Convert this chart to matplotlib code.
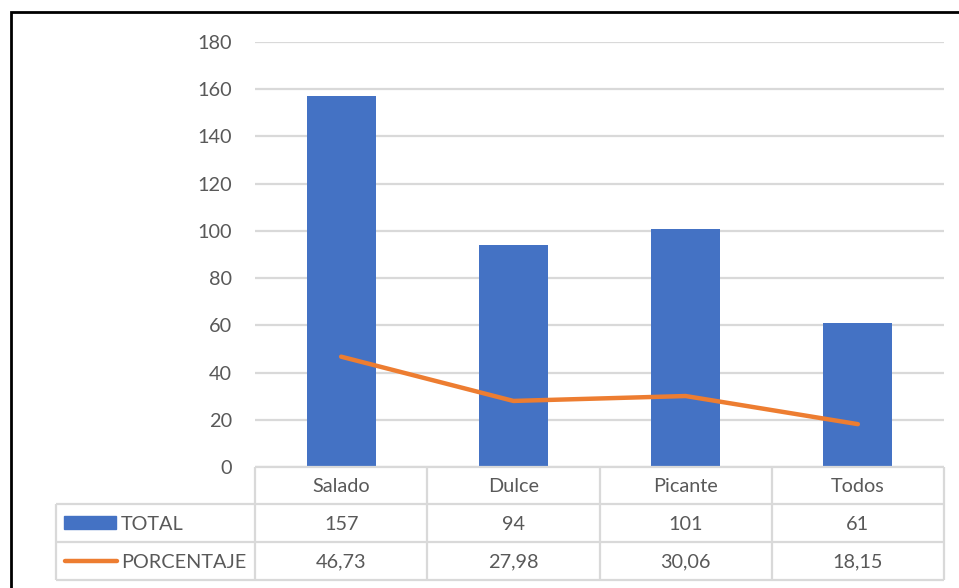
import matplotlib
matplotlib.use("Agg")
import matplotlib.pyplot as plt
from matplotlib.patches import Rectangle

categories = ["Salado", "Dulce", "Picante", "Todos"]
total = [157, 94, 101, 61]
porcentaje = [46.73, 27.98, 30.06, 18.15]
total_labels = ["157", "94", "101", "61"]
porcentaje_labels = ["46,73", "27,98", "30,06", "18,15"]
yticks = [0, 20, 40, 60, 80, 100, 120, 140, 160, 180]

BLUE = "#4472C4"
ORANGE = "#ED7D31"
GRID = "#D9D9D9"
TEXT = "#595959"
FONT = ["Lato", "DejaVu Sans"]
FS = 14.3

W, H = 959, 588
fig = plt.figure(figsize=(W / 100, H / 100), dpi=100)
fig.patch.set_facecolor("white")


def fx(px):
    return px / W


def fy(py):
    return 1 - py / H


# main plot area (pixel bounds)
left, right, top, bottom = 255, 944, 42, 467
ax = fig.add_axes([fx(left), fy(bottom), fx(right) - fx(left), fy(top) - fy(bottom)])
x = list(range(len(categories)))
ax.bar(x, total, width=0.4, color=BLUE, zorder=2)
ax.plot(x, porcentaje, color=ORANGE, lw=3.2, solid_capstyle="round", zorder=3)
ax.set_xlim(-0.5, len(categories) - 0.5)
ax.set_ylim(0, 180)
ax.set_yticks(yticks)
ax.set_yticklabels([str(v) for v in yticks], fontsize=FS, color=TEXT, family=FONT)
ax.tick_params(axis="y", length=0, pad=16.5)
ax.set_xticks([])
ax.yaxis.grid(True, color=GRID, lw=1.6, zorder=0)
for s in ax.spines.values():
    s.set_visible(False)

# overlay in pixel coordinates for the data table and frame
ov = fig.add_axes([0, 0, 1, 1], facecolor="none")
ov.set_xlim(0, W)
ov.set_ylim(H, 0)
ov.axis("off")

# outer frame
ov.plot([11, 11, W + 5], [H + 5, 12, 12], color="black", lw=2, solid_joinstyle="miter")

# column positions from the main axis scale
fig.canvas.draw()
inv = ov.transData.inverted()
edges = [inv.transform(ax.transData.transform((i - 0.5, 0)))[0] for i in range(len(categories) + 1)]
centers = [inv.transform(ax.transData.transform((i, 0)))[0] for i in x]

row_y = [467, 504, 542, 580]
tleft = 56
lc = dict(color=GRID, lw=1.6, solid_capstyle="butt")
# horizontal lines
ov.plot([edges[0], edges[-1]], [row_y[0], row_y[0]], **lc)
for yy in row_y[1:]:
    ov.plot([tleft, edges[-1]], [yy, yy], **lc)
# vertical lines
for ex in edges:
    ov.plot([ex, ex], [row_y[0], row_y[-1]], **lc)
ov.plot([tleft, tleft], [row_y[1], row_y[-1]], **lc)

tk = dict(fontsize=FS, color=TEXT, family=FONT, va="center")
for c, cat, t, p in zip(centers, categories, total_labels, porcentaje_labels):
    ov.text(c, (row_y[0] + row_y[1]) / 2 + 1, cat, ha="center", **tk)
    ov.text(c, (row_y[1] + row_y[2]) / 2 + 1, t, ha="center", **tk)
    ov.text(c, (row_y[2] + row_y[3]) / 2 + 1, p, ha="center", **tk)

# legend keys
ov.add_patch(Rectangle((64, 516), 52, 13, color=BLUE))
ov.plot([65, 117], [561, 561], color=ORANGE, lw=3.2, solid_capstyle="round")
ov.text(121, (row_y[1] + row_y[2]) / 2 + 1, "TOTAL", ha="left", **tk)
ov.text(121, (row_y[2] + row_y[3]) / 2 + 1, "PORCENTAJE", ha="left", **tk)

fig.savefig("out.png", dpi=100, facecolor="white")
